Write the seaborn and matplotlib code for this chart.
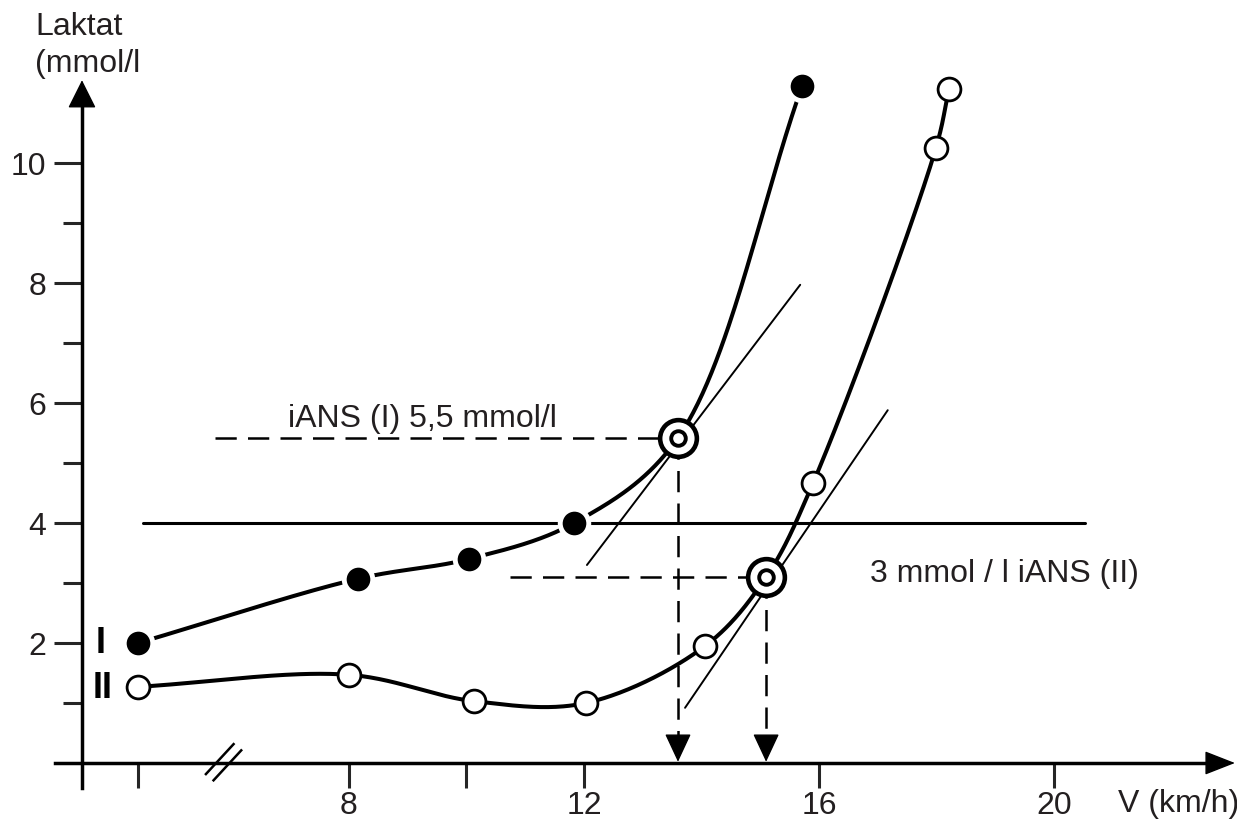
import numpy as np
import pandas as pd
import matplotlib
matplotlib.use("Agg")
import matplotlib.pyplot as plt
import seaborn as sns

# ---------------- data ----------------
curve_I_x = [4.41, 8.15, 10.04, 11.83, 15.71]
curve_I_y = [2.00, 3.07, 3.40, 4.00, 11.28]
curve_II_x = [4.41, 8.00, 10.13, 12.03, 14.06, 15.90, 17.99, 18.21]
curve_II_y = [1.27, 1.47, 1.03, 1.00, 1.95, 4.67, 10.25, 11.23]

ians_x = [13.60, 15.10]          # iANS (I), iANS (II) speeds
ians_y = [5.42, 3.10]            # lactate at threshold
ians_labels = ["iANS (I) 5,5 mmol/l", "3 mmol / l iANS (II)"]
ians_dash_start = [5.72, 10.74]  # where the horizontal dashed guides start

tangent_I = ([12.05, 15.68], [3.30, 7.97])
tangent_II = ([13.72, 17.17], [0.92, 5.88])

ref_level = 4.0
ref_range = [4.49, 20.53]

x_ticks = [4.41, 8, 10, 12, 16, 20]
x_ticklabels = ["", "8", "", "12", "16", "20"]
y_major = [2, 4, 6, 8, 10]
y_minor = [1, 3, 5, 7, 9]

# ---------------- helpers ----------------
def catmull_rom(xs, ys, n=60, alpha=0.5):
    P = np.column_stack([xs, ys]).astype(float)
    P = np.vstack([2 * P[0] - P[1], P, 2 * P[-1] - P[-2]])
    out = []
    for i in range(len(P) - 3):
        p0, p1, p2, p3 = P[i], P[i + 1], P[i + 2], P[i + 3]
        t0 = 0.0
        t1 = t0 + np.hypot(*(p1 - p0)) ** alpha
        t2 = t1 + np.hypot(*(p2 - p1)) ** alpha
        t3 = t2 + np.hypot(*(p3 - p2)) ** alpha
        t = np.linspace(t1, t2, n)[:, None]
        A1 = (t1 - t) / (t1 - t0) * p0 + (t - t0) / (t1 - t0) * p1
        A2 = (t2 - t) / (t2 - t1) * p1 + (t - t1) / (t2 - t1) * p2
        A3 = (t3 - t) / (t3 - t2) * p2 + (t - t2) / (t3 - t2) * p3
        B1 = (t2 - t) / (t2 - t0) * A1 + (t - t0) / (t2 - t0) * A2
        B2 = (t3 - t) / (t3 - t1) * A2 + (t - t1) / (t3 - t1) * A3
        C = (t2 - t) / (t2 - t1) * B1 + (t - t1) / (t2 - t1) * B2
        out.append(C if i == 0 else C[1:])
    return np.vstack(out)

# curve nodes include the threshold points that lie on each curve
nodes_I = sorted(zip(curve_I_x + [ians_x[0]], curve_I_y + [ians_y[0]]))
nodes_II = sorted(zip(curve_II_x + [ians_x[1]], curve_II_y + [ians_y[1]]))
smooth_I = catmull_rom([p[0] for p in nodes_I], [p[1] for p in nodes_I])
smooth_II = catmull_rom([p[0] for p in nodes_II], [p[1] for p in nodes_II])

# ---------------- style ----------------
sns.set_theme(style="white")
plt.rcParams["font.family"] = ["Liberation Sans", "DejaVu Sans"]
TXT = "#231f20"
FS = 23

fig = plt.figure(figsize=(12.37, 8.25), dpi=100)
ax = fig.add_axes([0, 0, 1, 1])
ax.set_xlim(2.0596, 23.115)
ax.set_ylim(-1.0333, 12.7167)
ax.patch.set_alpha(0)

# axes as spines
for s in ["top", "right"]:
    ax.spines[s].set_visible(False)
ax.spines["left"].set_position(("data", 3.455))
ax.spines["bottom"].set_position(("data", 0))
ax.spines["left"].set_bounds(-0.417, 11.0)
ax.spines["bottom"].set_bounds(3.0, 22.7)
for s in ["left", "bottom"]:
    ax.spines[s].set_linewidth(2.5)
    ax.spines[s].set_color("black")

ax.set_yticks(y_major)
ax.set_yticklabels([str(v) for v in y_major])
ax.set_yticks(y_minor, minor=True)
ax.set_xticks(x_ticks)
ax.set_xticklabels(x_ticklabels)
ax.tick_params(axis="y", which="major", direction="out", length=20, width=2.2,
               pad=5.5, labelsize=FS, labelcolor=TXT, left=True)
ax.tick_params(axis="y", which="minor", direction="out", length=14, width=2.2, left=True)
ax.tick_params(axis="x", which="major", direction="out", length=18, width=2.2,
               pad=2.5, labelsize=FS, labelcolor=TXT, bottom=True)

# axis arrowheads
ax.annotate("", xy=(3.455, 11.38), xytext=(3.455, 10.9),
            arrowprops=dict(arrowstyle="-|>,head_length=0.9,head_width=0.45",
                            mutation_scale=20, color="black", lw=1, shrinkA=0, shrinkB=0))
ax.annotate("", xy=(23.08, 0), xytext=(22.6, 0),
            arrowprops=dict(arrowstyle="-|>,head_length=0.97,head_width=0.38",
                            mutation_scale=20, color="black", lw=1, shrinkA=0, shrinkB=0))

# axis break mark
for dx in [0.0, 0.13]:
    ax.plot([5.55 + dx, 6.05 + dx], [-0.2 - dx * 0.8, 0.33 - dx * 0.8],
            color="black", lw=1.8, solid_capstyle="butt", zorder=5)

# reference 4 mmol/l line
ax.plot(ref_range, [ref_level, ref_level], color="black", lw=2.2, zorder=2)

# tangents
ax.plot(*tangent_I, color="black", lw=1.4, zorder=2)
ax.plot(*tangent_II, color="black", lw=1.4, zorder=2)

# dashed guides and arrows
for xs, ys, x0 in zip(ians_x, ians_y, ians_dash_start):
    ax.plot([x0, xs], [ys, ys], color="black", lw=1.8, dashes=(8.5, 4.5), zorder=2)
    ax.plot([xs, xs], [ys, 0.42], color="black", lw=1.8, dashes=(8.5, 4.5), zorder=2)
    ax.annotate("", xy=(xs, 0.02), xytext=(xs, 0.45),
                arrowprops=dict(arrowstyle="-|>,head_length=0.9,head_width=0.42",
                                mutation_scale=20, color="black", lw=1,
                                shrinkA=0, shrinkB=0), zorder=6)

# smooth curves
sns.lineplot(x=smooth_I[:, 0], y=smooth_I[:, 1], sort=False, estimator=None,
             color="black", lw=2.9, ax=ax, zorder=3)
sns.lineplot(x=smooth_II[:, 0], y=smooth_II[:, 1], sort=False, estimator=None,
             color="black", lw=2.9, ax=ax, zorder=3)

# markers
df_I = pd.DataFrame({"v": curve_I_x, "lac": curve_I_y})
df_II = pd.DataFrame({"v": curve_II_x, "lac": curve_II_y})
df_T = pd.DataFrame({"v": ians_x, "lac": ians_y})
sns.scatterplot(data=df_I, x="v", y="lac", s=580, color="white", linewidth=0, ax=ax, zorder=4)
sns.scatterplot(data=df_I, x="v", y="lac", s=290, color="black", linewidth=0, ax=ax, zorder=5)
sns.scatterplot(data=df_II, x="v", y="lac", s=270, color="white", edgecolor="black",
                linewidth=2.0, ax=ax, zorder=5)
sns.scatterplot(data=df_T, x="v", y="lac", s=700, color="white", edgecolor="black",
                linewidth=3.3, ax=ax, zorder=5)
sns.scatterplot(data=df_T, x="v", y="lac", s=110, color="white", edgecolor="black",
                linewidth=2.8, ax=ax, zorder=6)

ax.set_xlabel("")
ax.set_ylabel("")
if ax.get_legend():
    ax.get_legend().remove()

# texts
ax.text(2.655, 12.13, "Laktat", fontsize=FS, color=TXT, ha="left", va="baseline")
ax.text(2.655, 11.52, "(mmol/l", fontsize=FS, color=TXT, ha="left", va="baseline")
ax.text(21.09, -0.817, "V (km/h)", fontsize=FS, color=TXT, ha="left", va="baseline")
ax.text(6.96, 5.60, ians_labels[0], fontsize=FS, color=TXT, ha="left", va="baseline")
ax.text(16.87, 3.02, ians_labels[1], fontsize=FS, color=TXT, ha="left", va="baseline")
ax.text(3.78, 2.0, "I", fontsize=26, fontweight="bold", color="black", ha="center", va="center")
ax.text(3.80, 1.24, "II", fontsize=26, fontweight="bold", color="black", ha="center", va="center")

fig.savefig("out.png", dpi=100)
